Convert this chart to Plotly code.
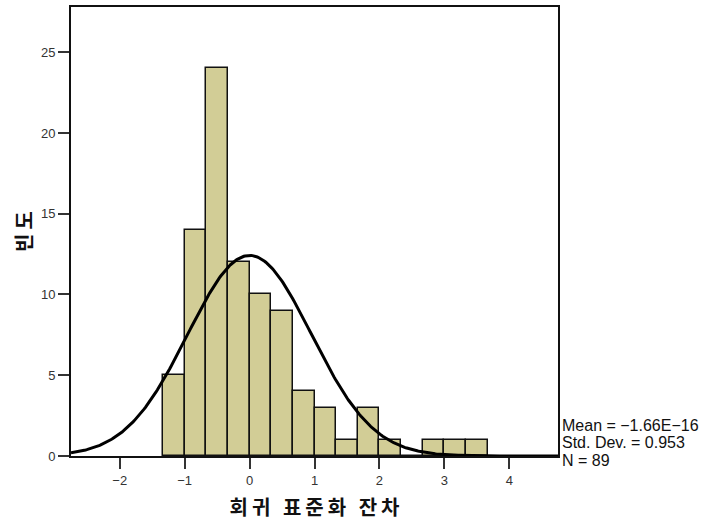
import math
import plotly.graph_objects as go

# Histogram data (bin width 1/3, first bin starts at -4/3)
bin_start = -4.0 / 3.0
bin_width = 1.0 / 3.0
counts = [5, 14, 24, 12, 10, 9, 4, 3, 1, 3, 1, 0, 1, 1, 1]

# Summary statistics shown on the chart
mean_val = -1.66e-16
std_val = 0.953
n_val = 89

x_ticks = [-2, -1, 0, 1, 2, 3, 4]
y_ticks = [0, 5, 10, 15, 20, 25]
x_range = [-2.75, 4.75]
y_range = [0, 27.8]

x_title = "회귀 표준화 잔차"
y_title = "빈도"

centers = [bin_start + bin_width * (i + 0.5) for i in range(len(counts))]

# Fitted normal curve from the chart's mean / sd / N
curve_x = [x_range[0] + (x_range[1] - x_range[0]) * i / 400 for i in range(401)]
scale = n_val * bin_width / (std_val * math.sqrt(2 * math.pi))
curve_y = [scale * math.exp(-0.5 * ((x - mean_val) / std_val) ** 2) for x in curve_x]

fig = go.Figure()
fig.add_trace(go.Bar(
    x=centers, y=counts, width=[bin_width] * len(counts),
    marker=dict(color="#D2CD96", line=dict(color="#111111", width=1.5)),
    hoverinfo="skip",
))
fig.add_trace(go.Scatter(
    x=curve_x, y=curve_y, mode="lines",
    line=dict(color="black", width=3), hoverinfo="skip",
))


def spaced(s):
    # widen letter spacing with thin spaces like the reference rendering
    return "\u2009".join(list(s))


font_main = "Liberation Sans, Arial, sans-serif"
fig.update_layout(
    width=710, height=529,
    margin=dict(l=71, r=152, t=5, b=73),
    plot_bgcolor="white", paper_bgcolor="white",
    showlegend=False,
    bargap=0,
    font=dict(family=font_main, size=13, color="#222222"),
    xaxis=dict(
        range=x_range, tickvals=x_ticks,
        ticktext=[("−" + str(abs(v))) if v < 0 else str(v) for v in x_ticks],
        showgrid=False, zeroline=False,
        showline=True, linecolor="#111111", linewidth=2, mirror=True,
        ticks="outside", ticklen=11, tickwidth=1.5, tickcolor="#333333",
        tickfont=dict(size=13, color="#333333"),
        title=dict(text="<b>" + spaced(x_title) + "</b>", standoff=14,
                   font=dict(family="Noto Sans CJK KR", size=20, color="#111111")),
    ),
    yaxis=dict(
        range=y_range, tickvals=y_ticks,
        showgrid=False, zeroline=False,
        showline=True, linecolor="#111111", linewidth=2, mirror=True,
        ticks="outside", ticklen=11, tickwidth=1.5, tickcolor="#333333",
        tickfont=dict(size=13, color="#333333"),
        title=dict(text="<b>" + spaced(y_title) + "</b>", standoff=3,
                   font=dict(family="Noto Sans CJK KR", size=20, color="#111111")),
    ),
)

stats_lines = [
    "Mean = −1.66E−16",
    "Std. Dev. = " + str(std_val),
    "N = " + str(n_val),
]
for i, txt in enumerate(stats_lines):
    fig.add_annotation(
        xref="paper", yref="paper", x=1.0, y=0,
        xanchor="left", yanchor="middle",
        xshift=2, yshift=31 - 17.5 * i,
        text=txt, showarrow=False, align="left",
        font=dict(family=font_main, size=16, color="#111111"),
    )

fig.write_html("out.html")
